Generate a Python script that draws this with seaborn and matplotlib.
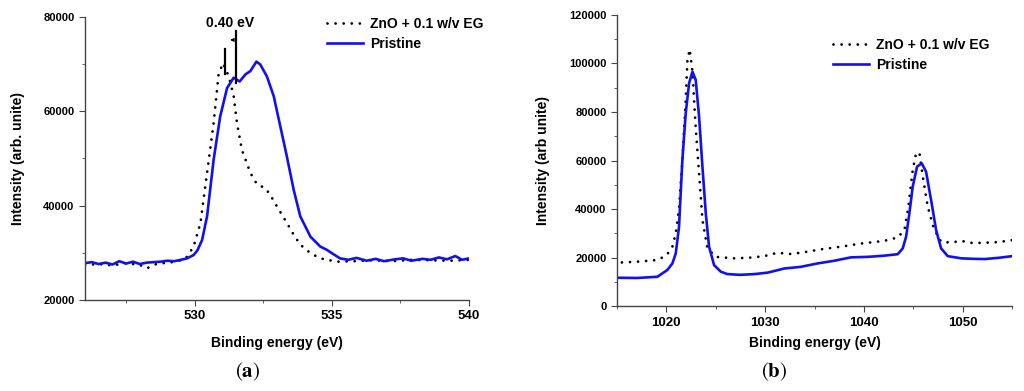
import seaborn as sns
import pandas as pd
from matplotlib import pyplot as plt
from matplotlib.lines import Line2D
from matplotlib.ticker import MultipleLocator

# ---- panel (a): O 1s region ----
a_eg_x = [526.0, 526.5, 527.0, 527.5, 528.0, 528.26, 528.6, 529.0, 529.36, 529.7, 529.96,
          530.21, 530.45, 530.69, 530.87, 531.03, 531.24, 531.42, 531.54, 531.72, 531.9,
          532.03, 532.27, 532.57, 532.75, 533.0, 533.36, 533.61, 533.85, 534.22, 534.58,
          535.18, 535.8, 536.5, 537.2, 537.9, 538.6, 539.3, 540.0]
a_eg_y = [27400, 27600, 27300, 27800, 27400, 26700, 27600, 27900, 28100, 29000, 31300,
          36300, 46900, 57500, 67800, 70200, 67400, 63200, 57500, 51800, 49000,
          46900, 44500, 43700, 42300, 39800, 36300, 33800, 31700, 29900, 28800,
          28100, 28200, 28400, 28200, 28500, 28400, 28300, 28500]

a_pr_x = [526.0, 526.25, 526.5, 526.75, 527.0, 527.25, 527.5, 527.75, 528.0, 528.25, 528.5,
          528.75, 529.0, 529.25, 529.5, 529.72, 529.96, 530.1, 530.27, 530.45, 530.69,
          530.93, 531.18, 531.42, 531.64, 531.85, 532.03, 532.25, 532.39, 532.63, 532.88,
          533.12, 533.36, 533.61, 533.85, 534.22, 534.58, 534.82, 535.0, 535.3, 535.6,
          535.9, 536.27, 536.6, 536.9, 537.3, 537.6, 537.9, 538.3, 538.6, 538.9, 539.2,
          539.5, 539.75, 540.0]
a_pr_y = [27800, 28000, 27600, 27900, 27500, 28200, 27700, 28100, 27600, 27900, 28000,
          28100, 28300, 28200, 28500, 28800, 29500, 30500, 32700, 37700, 49700,
          58900, 64900, 67100, 66300, 67800, 68500, 70500, 69900, 67400, 63200,
          56800, 50400, 43300, 37700, 33400, 31300, 30600, 29900, 28800, 28500,
          28900, 28300, 28700, 28200, 28600, 28800, 28300, 28700, 28500, 29000,
          28600, 29300, 28500, 28800]

a_peaks = [531.09, 531.49]

# ---- panel (b): Zn 2p region ----
b_eg_x = [1015.5, 1017.0, 1019.09, 1020.03, 1020.61, 1020.95, 1021.28, 1021.62, 1021.96,
          1022.13, 1022.36, 1022.64, 1022.97, 1023.31, 1023.65, 1024.16, 1025.0, 1026.86,
          1028.5, 1029.9, 1031.25, 1032.5, 1033.61, 1035.64, 1037.67, 1039.7, 1042.06,
          1043.41, 1044.09, 1044.49, 1044.93, 1045.27, 1045.61, 1045.95, 1046.45, 1047.06,
          1047.8, 1048.8, 1049.83, 1051.0, 1052.2, 1053.6, 1055.0]
b_eg_y = [18000, 18300, 19000, 21000, 24500, 30000, 40300, 60200, 85000,
          101400, 105800, 96600, 73300, 54700, 35500, 23800, 20300, 19700,
          20000, 20600, 22000, 21500, 22000, 23400, 24500, 25800, 26900,
          28300, 31300, 41000, 56100, 63000, 63200, 53300, 41000, 32000,
          26500, 26200, 26900, 26000, 26100, 26400, 27200]

b_pr_x = [1015.0, 1017.0, 1019.09, 1020.1, 1020.61, 1020.95, 1021.28, 1021.62, 1021.96,
          1022.3, 1022.64, 1022.97, 1023.31, 1023.65, 1023.99, 1024.32, 1024.83, 1025.51,
          1026.18, 1027.5, 1028.89, 1030.24, 1031.93, 1033.61, 1035.3, 1036.99, 1038.68,
          1040.37, 1042.06, 1043.41, 1043.92, 1044.26, 1044.59, 1044.93, 1045.37, 1045.85,
          1046.28, 1046.79, 1047.3, 1047.8, 1048.48, 1049.83, 1051.0, 1052.2, 1053.6, 1055.0]
b_pr_y = [11700, 11600, 12100, 14900, 17600, 21700, 32700, 60200, 79500,
          91800, 96600, 93200, 78100, 57500, 38200, 24500, 16900, 14200,
          13200, 12900, 13200, 13800, 15500, 16200, 17600, 18700, 20100,
          20300, 20800, 21400, 23800, 28600, 38200, 49200, 57500, 58800,
          55400, 43700, 31300, 23800, 20600, 19700, 19500, 19400, 19900, 20600]

legend_labels = ['ZnO + 0.1 w/v EG', 'Pristine']
blue = '#1010f0'
dot_style = (0, (0.01, 2.9))
dot_lw = 2.0
line_lw = 1.9

plt.rcParams['font.family'] = ['Liberation Sans', 'DejaVu Sans']
plt.rcParams['mathtext.fontset'] = 'stix'

fig = plt.figure(figsize=(10.24, 3.91), dpi=100)
ax_a = fig.add_axes([0.083, 0.233, 0.375, 0.724])
ax_b = fig.add_axes([0.6025, 0.217, 0.386, 0.745])


def draw_panel(ax, eg_x, eg_y, pr_x, pr_y, ylabel, xpad, ypad):
    sns.lineplot(x=eg_x, y=eg_y, ax=ax, color='black', linewidth=dot_lw,
                 linestyle=dot_style, dash_capstyle='round', estimator=None)
    sns.lineplot(x=pr_x, y=pr_y, ax=ax, color=blue, linewidth=line_lw, estimator=None)
    sns.despine(ax=ax)
    for side in ['left', 'bottom']:
        ax.spines[side].set_color('#444444')
        ax.spines[side].set_linewidth(1.0)
    ax.tick_params(which='major', direction='out', length=4, color='#444444')
    ax.tick_params(which='minor', direction='out', length=2.5, color='#444444')
    ax.set_xlabel('Binding energy (eV)', fontsize=10, fontweight='bold', labelpad=xpad)
    ax.set_ylabel(ylabel, fontsize=10, fontweight='bold', labelpad=ypad)
    handles = [Line2D([], [], color='black', linewidth=dot_lw, linestyle=dot_style,
                      dash_capstyle='round'),
               Line2D([], [], color=blue, linewidth=line_lw)]
    return handles


def style_ticks(ax):
    for lab in ax.get_xticklabels():
        lab.set_fontsize(9.5)
        lab.set_fontweight('bold')
    for lab in ax.get_yticklabels():
        lab.set_fontsize(8)
        lab.set_fontweight('bold')


h = draw_panel(ax_a, a_eg_x, a_eg_y, a_pr_x, a_pr_y, 'Intensity (arb. unite)', 10, 13)
ax_a.set_xlim(526, 540)
ax_a.set_ylim(20000, 80000)
ax_a.xaxis.set_major_locator(MultipleLocator(5))
ax_a.xaxis.set_minor_locator(MultipleLocator(2.5))
ax_a.yaxis.set_major_locator(MultipleLocator(20000))
ax_a.yaxis.set_minor_locator(MultipleLocator(10000))
style_ticks(ax_a)
ax_a.legend(h, legend_labels, frameon=False, loc='upper right',
            bbox_to_anchor=(1.07, 1.045), handlelength=2.6, handletextpad=0.5,
            prop={'weight': 'bold', 'size': 10}, labelspacing=0.45)

# peak shift annotation
ax_a.plot([a_peaks[1], a_peaks[1]], [66000, 77000], color='black', linewidth=1.6)
ax_a.plot([a_peaks[0], a_peaks[0]], [67900, 73200], color='black', linewidth=1.6)
ax_a.annotate('', xy=(a_peaks[1] - 0.2, 75100), xytext=(a_peaks[1], 75100),
              arrowprops=dict(arrowstyle='-|>', color='black', lw=0.8,
                              mutation_scale=5))
ax_a.text(a_peaks[1] - 0.2, 77300, '0.40 eV', fontsize=10, fontweight='bold',
          ha='center', va='bottom')

h = draw_panel(ax_b, b_eg_x, b_eg_y, b_pr_x, b_pr_y, 'Intensity (arb unite)', 5, 14)
ax_b.set_xlim(1015, 1055)
ax_b.set_ylim(0, 120000)
ax_b.xaxis.set_major_locator(MultipleLocator(10))
ax_b.xaxis.set_minor_locator(MultipleLocator(5))
ax_b.yaxis.set_major_locator(MultipleLocator(20000))
ax_b.yaxis.set_minor_locator(MultipleLocator(10000))
style_ticks(ax_b)
ax_b.legend(h, legend_labels, frameon=False, loc='upper right',
            bbox_to_anchor=(0.975, 0.965), handlelength=2.6, handletextpad=0.5,
            prop={'weight': 'bold', 'size': 10}, labelspacing=0.45)

fig.text(0.242, 0.035, r'$(\mathbf{a})$', fontsize=15, ha='center')
fig.text(0.756, 0.035, r'$(\mathbf{b})$', fontsize=15, ha='center')

plt.savefig('out.png', dpi=100)
